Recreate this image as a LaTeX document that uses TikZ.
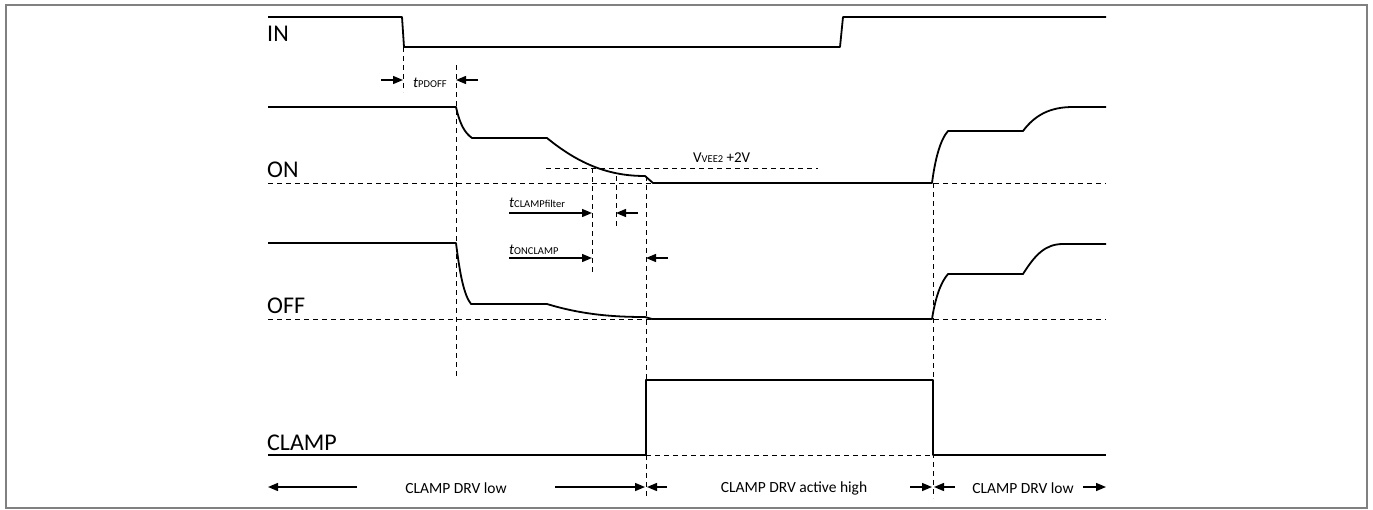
\documentclass[tikz,border=0pt]{standalone}
\usepackage{fontspec}
\setmainfont{Carlito}
\usetikzlibrary{arrows.meta}
\newcommand{\tsub}[2]{{\fontsize{15}{18}\selectfont\itshape #1}{\fontsize{10.5}{12}\selectfont #2}}
\begin{document}
\begin{tikzpicture}[x=1pt,y=-1pt,
  sig/.style={line width=1.8pt, line join=round},
  dsh/.style={line width=0.9pt, dash pattern=on 5pt off 4pt},
  arr/.style={line width=1.4pt, -{Triangle[length=10pt,width=8pt]}},
  biglab/.style={font=\fontsize{24}{28}\selectfont, inner sep=0pt, anchor=base west},
  smalllab/.style={font=\fontsize{15.5}{18}\selectfont, inner sep=0pt},
  tlab/.style={inner sep=0pt, anchor=base west}]
\useasboundingbox (0,0) rectangle (1373,509);
\draw[gray, line width=1.5pt] (6,5) rectangle (1367,508);

% dashed reference lines
\draw[dsh] (268,183) -- (1106,183);
\draw[dsh] (268,319) -- (1106,319);
\draw[dsh] (546,168) -- (818,168);
\draw[dsh] (646,455) -- (933,455);
\draw[dsh] (403,47) -- (403,92);
\draw[dsh] (456,65) -- (456,378);
\draw[dsh] (592,168) -- (592,273);
\draw[dsh] (616,176) -- (616,228);
\draw[dsh] (646,176) -- (646,498);
\draw[dsh] (933,183) -- (933,498);

% IN
\draw[sig] (268,17) -- (402,17) -- (404,47) -- (840,47) -- (843,17) -- (1106,17);
% ON
\draw[sig] (268,107) -- (456,107) .. controls (460,125) and (465,133) .. (472,138)
  -- (547,138) .. controls (580,165) and (610,176) .. (645,176) -- (653,183) -- (932,183)
  .. controls (935,160) and (940,140) .. (948,131) -- (1023,131)
  .. controls (1035,115) and (1050,107) .. (1073,107) -- (1106,107);
% OFF
\draw[sig] (268,243) -- (456,243) .. controls (460,275) and (464,295) .. (471,304)
  -- (547,304) .. controls (580,314) and (610,317) .. (645,317) -- (652,319) -- (932,319)
  .. controls (935,300) and (940,283) .. (948,274) -- (1023,274)
  .. controls (1035,255) and (1045,244) .. (1063,244) -- (1106,244);
% CLAMP
\draw[sig] (268,455) -- (646,455) -- (646,380) -- (933,380) -- (933,455) -- (1106,455);

% labels
\node[biglab] (lin) at (267,41) {IN};
\node[biglab] (lon) at (267,177) {ON};
\node[biglab] (loff) at (267,313) {OFF};
\node[biglab] (lclamp) at (267,450) {CLAMP};

\node[tlab] (tpd) at (413,87) {\tsub{t}{PDOFF}};
\node[tlab] (tcf) at (509,207) {\tsub{t}{CLAMPfilter}};
\node[tlab] (toc) at (509,254) {\tsub{t}{ONCLAMP}};
\node[tlab, font=\fontsize{15}{18}\selectfont] (vee) at (693,162) {V{\fontsize{10.5}{12}\selectfont VEE2} +2V};

% timing arrows
\draw[arr] (381,80) -- (403,80);
\draw[arr] (478,80) -- (456,80);
\draw[arr] (509,213) -- (592,213);
\draw[arr] (638,213) -- (616,213);
\draw[arr] (509,258) -- (592,258);
\draw[arr] (668,258) -- (646,258);

% bottom
\node[smalllab] (b1) at (456,488) {CLAMP DRV low};
\node[smalllab] (b2) at (794,488) {CLAMP DRV active high};
\node[smalllab] (b3) at (1023,488) {CLAMP DRV low};
\draw[arr] (357,487) -- (268,487);
\draw[arr] (555,487) -- (645,487);
\draw[arr] (667,487) -- (647,487);
\draw[arr] (910,487) -- (932,487);
\draw[arr] (955,487) -- (934,487);
\draw[arr] (1083,487) -- (1106,487);
\end{tikzpicture}
\end{document}
